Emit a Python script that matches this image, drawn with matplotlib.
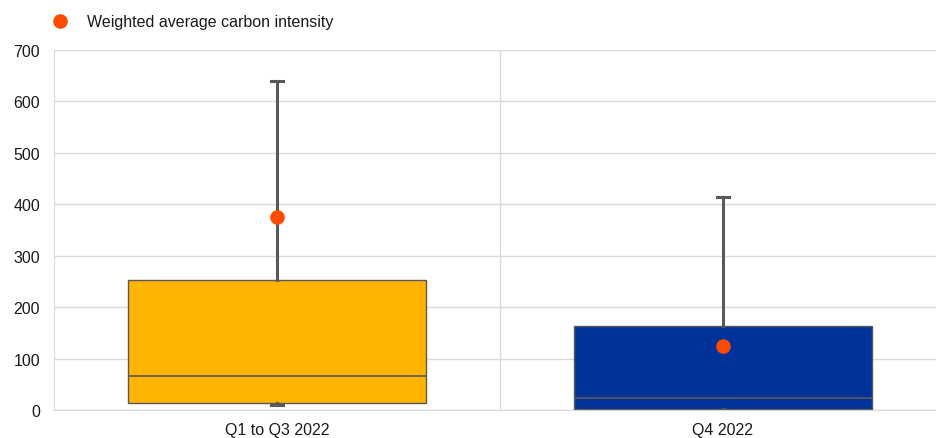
import matplotlib
matplotlib.use("Agg")
import matplotlib.pyplot as plt
from matplotlib.lines import Line2D

categories = ["Q1 to Q3 2022", "Q4 2022"]
whisker_low = [9, 0]
quartile1 = [14, 2]
median = [66, 23]
quartile3 = [252, 163]
whisker_high = [640, 414]
weighted_mean = [376, 125]
box_colors = ["#FFB400", "#003299"]
yticks = [0, 100, 200, 300, 400, 500, 600, 700]

plt.rcParams['font.family'] = ['Liberation Sans', 'DejaVu Sans']

fig = plt.figure(figsize=(9.37, 4.39), dpi=100)
ax = fig.add_axes([54/937, 28/439, (937-54)/937, (411-51)/439])

stats = []
for i, c in enumerate(categories):
    stats.append(dict(label=c, whislo=whisker_low[i], q1=quartile1[i], med=median[i],
                      q3=quartile3[i], whishi=whisker_high[i], mean=weighted_mean[i]))

grey = "#595959"
bp = ax.bxp(stats, positions=range(len(categories)), widths=0.668, patch_artist=True,
            showfliers=False, showmeans=False, capwidths=0.028,
            boxprops=dict(edgecolor=grey, linewidth=1.0),
            medianprops=dict(color=grey, linewidth=1.2),
            whiskerprops=dict(color=grey, linewidth=2.2),
            capprops=dict(color=grey, linewidth=2.2), zorder=3)
for patch, col in zip(bp['boxes'], box_colors):
    patch.set_facecolor(col)

ax.plot(range(len(categories)), weighted_mean, 'o', color="#FF4B00", markersize=9.5,
        linestyle='none', zorder=5, label="Weighted average carbon intensity")

ax.set_xlim(-0.5, 1.48)
ax.set_ylim(0, 700)
ax.set_yticks(yticks)
ax.set_xticks(range(len(categories)))
ax.set_xticklabels(categories)
ax.grid(axis='y', color="#d9d9d9", linewidth=1.0, zorder=0)
ax.axvline(0.5, color="#d9d9d9", linewidth=1.0, zorder=0)
for s in ['top', 'right']:
    ax.spines[s].set_visible(False)
ax.spines['left'].set_color("#d9d9d9")
ax.spines['bottom'].set_color("#d9d9d9")
ax.tick_params(axis='both', length=0, labelsize=11.5, colors="#1a1a1a")
ax.tick_params(axis='y', pad=10)
ax.tick_params(axis='x', pad=9)

handle = Line2D([], [], marker='o', color="#FF4B00", linestyle='none', markersize=9.5)
ax.legend([handle], ["Weighted average carbon intensity"], loc='center left',
          bbox_to_anchor=(52/937, 1 - 23/439), bbox_transform=fig.transFigure,
          frameon=False, fontsize=11.5, handletextpad=1.2, handlelength=1.0,
          borderaxespad=0, borderpad=0, labelcolor="#1a1a1a")

fig.savefig("out.png", dpi=100)
